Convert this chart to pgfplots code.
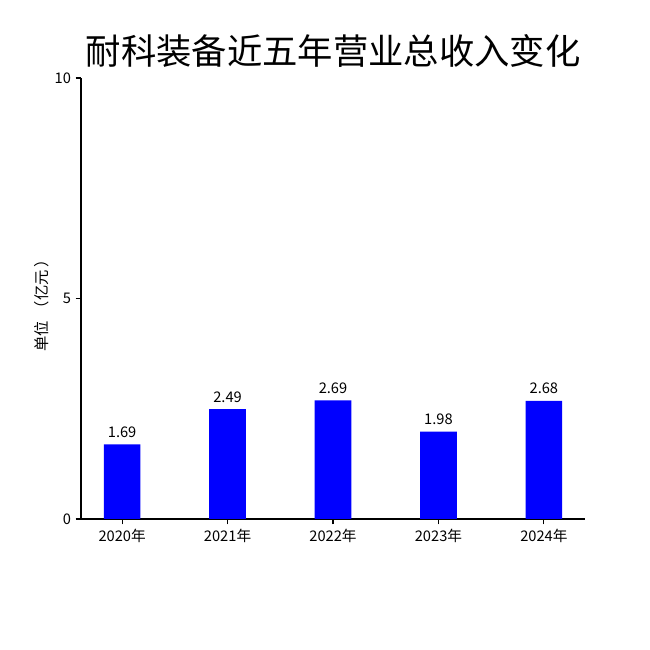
\documentclass[border=0pt]{standalone}
\usepackage{fontspec}
\setmainfont{Noto Sans CJK SC}
\usepackage{pgfplots}
\pgfplotsset{compat=1.18}
\begin{document}
\begin{tikzpicture}
\useasboundingbox (0pt,0pt) rectangle (487.5pt,487.5pt);
\begin{axis}[
  at={(60.75pt,98.25pt)}, anchor=south west,
  scale only axis, width=378pt, height=330.75pt,
  xmin=-0.39, xmax=4.39, ymin=0, ymax=10,
  axis x line*=bottom, axis y line*=left,
  xtick={0,1,2,3,4},
  xticklabels={2020年,2021年,2022年,2023年,2024年},
  ytick={0,5,10},
  tick align=outside, tick pos=left,
  major tick length=4pt,
  tick style={black, line width=0.8pt},
  axis line style={black, line width=0.9pt},
  /pgf/number format/assume math mode=true,
  ticklabel style={font=\fontsize{11}{13}\selectfont},
  ybar, bar width=27.5pt,
  nodes near coords,
  every node near coord/.style={font=\fontsize{11}{13}\selectfont, anchor=south, inner sep=0pt, yshift=5pt, /pgf/number format/fixed, /pgf/number format/precision=2, /pgf/number format/fixed zerofill},
  clip=false,
]
\addplot[draw=none, fill={rgb,255:red,0;green,0;blue,255}, bar shift=0pt] coordinates {(0,1.69) (1,2.49) (2,2.69) (3,1.98) (4,2.68)};
\end{axis}
\node[font=\fontsize{11.5}{13}\selectfont, rotate=90] at (31.5pt,261pt) {单位\hspace{0.3em}（亿元\hspace{0.15em}）};
\node[font=\fontsize{26.5}{30}\selectfont] at (249.75pt,449.25pt) {耐科装备近五年营业总收入变化};
\end{tikzpicture}
\end{document}
